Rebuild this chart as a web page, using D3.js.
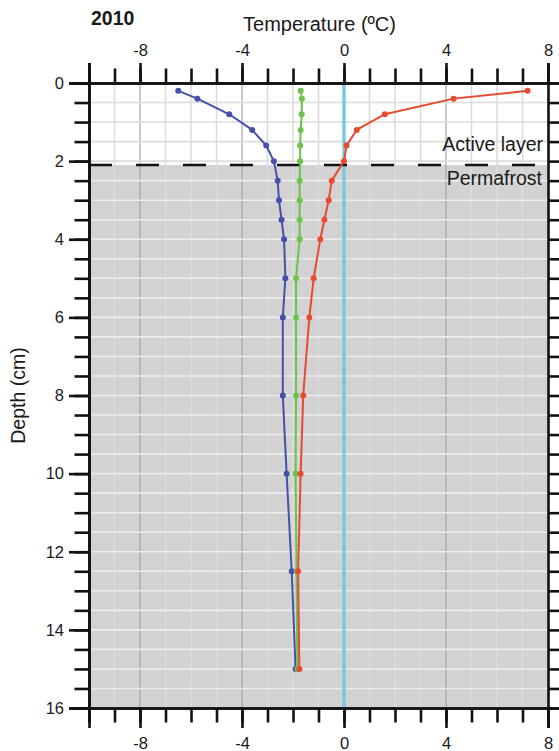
<!DOCTYPE html>
<html>
<head>
<meta charset="utf-8">
<script src="https://cdn.jsdelivr.net/npm/d3@7/dist/d3.min.js"></script>
<style>
  html, body { margin: 0; padding: 0; background: #fff; }
  svg { display: block; font-family: "Liberation Sans", Arial, Helvetica, sans-serif; }
</style>
</head>
<body>
<svg id="chart" width="559" height="751"></svg>
<script>
// Soil temperature profiles, 2010: depth (cm) vs temperature (ºC)
const depths   = [0.2, 0.4, 0.8, 1.2, 1.6, 2.0, 2.5, 3.0, 3.5, 4.0, 5.0, 6.0, 8.0, 10.0, 12.5, 15.0];
const tempMin  = [-6.5, -5.75, -4.5, -3.6, -3.05, -2.75, -2.6, -2.55, -2.45, -2.35, -2.3, -2.4, -2.4, -2.25, -2.05, -1.9];
const tempMean = [-1.7, -1.65, -1.66, -1.7, -1.72, -1.72, -1.74, -1.74, -1.74, -1.74, -1.88, -1.88, -1.88, -1.9, -1.86, -1.83];
const tempMax  = [7.2, 4.3, 1.6, 0.5, 0.1, 0.0, -0.48, -0.6, -0.77, -0.93, -1.19, -1.36, -1.6, -1.7, -1.8, -1.75];

const tempLabels  = [-8, -4, 0, 4, 8];
const depthLabels = [0, 2, 4, 6, 8, 10, 12, 14, 16];
const permafrostTop = 2.1;

const seriesColors = ["#4550ad", "#6cc24a", "#e84a2f"];
const series = [tempMin, tempMean, tempMax];

const svg = d3.select("#chart");
const plotLeft = 89, plotRight = 548, plotTop = 83, plotBottom = 708;

const x = d3.scaleLinear().domain([-10, 8]).range([plotLeft, plotRight]);
const y = d3.scaleLinear().domain([0, 16]).range([plotTop, plotBottom]);

const xMinor = d3.range(-10, 8.001, 1);
const yMinor = d3.range(0, 16.001, 0.5);
const xMajor = [-8, -4, 4];

// backgrounds: active layer (white) and permafrost (grey)
svg.append("rect").attr("x", plotLeft).attr("y", plotTop)
  .attr("width", plotRight - plotLeft).attr("height", y(permafrostTop) - plotTop)
  .attr("fill", "#ffffff");
svg.append("rect").attr("x", plotLeft).attr("y", y(permafrostTop))
  .attr("width", plotRight - plotLeft).attr("height", plotBottom - y(permafrostTop))
  .attr("fill", "#d3d2d2");

// grid in the active layer
const gActive = svg.append("g");
gActive.selectAll("line.v").data(xMinor).join("line")
  .attr("x1", d => x(d)).attr("x2", d => x(d))
  .attr("y1", plotTop).attr("y2", y(permafrostTop))
  .attr("stroke", d => xMajor.includes(d) ? "#b9bdc6" : "#dcdcdc")
  .attr("stroke-width", 1.6);
gActive.selectAll("line.h").data(yMinor.filter(d => d < permafrostTop)).join("line")
  .attr("x1", plotLeft).attr("x2", plotRight)
  .attr("y1", d => y(d)).attr("y2", d => y(d))
  .attr("stroke", "#dcdcdc").attr("stroke-width", 1.6);

// grid in the permafrost
const gPerm = svg.append("g");
gPerm.selectAll("line.v").data(xMinor).join("line")
  .attr("x1", d => x(d)).attr("x2", d => x(d))
  .attr("y1", y(permafrostTop)).attr("y2", plotBottom)
  .attr("stroke", d => xMajor.includes(d) ? "#a9adb6" : "#dcdcdc")
  .attr("stroke-width", 1.5);
gPerm.selectAll("line.h").data(yMinor.filter(d => d > permafrostTop)).join("line")
  .attr("x1", plotLeft).attr("x2", plotRight)
  .attr("y1", d => y(d)).attr("y2", d => y(d))
  .attr("stroke", "#ececec").attr("stroke-width", 1.6);

// 0 ºC reference line
svg.append("line")
  .attr("x1", x(0)).attr("x2", x(0)).attr("y1", plotTop).attr("y2", plotBottom)
  .attr("stroke", "#7cc8dc").attr("stroke-width", 3.5);

// active layer / permafrost boundary
svg.append("line")
  .attr("x1", plotLeft).attr("x2", plotRight)
  .attr("y1", y(permafrostTop)).attr("y2", y(permafrostTop))
  .attr("stroke", "#111").attr("stroke-width", 2.6)
  .attr("stroke-dasharray", "23,24");

svg.append("text").attr("x", 543).attr("y", 151)
  .attr("text-anchor", "end").attr("font-size", 19.5).attr("fill", "#1a1a1a")
  .text("Active layer");
svg.append("text").attr("x", 542).attr("y", 185)
  .attr("text-anchor", "end").attr("font-size", 19.5).attr("fill", "#1a1a1a")
  .text("Permafrost");

// temperature profiles
const line = d3.line().x(d => x(d[0])).y(d => y(d[1]));
series.forEach((vals, i) => {
  const pts = vals.map((v, j) => [v, depths[j]]);
  svg.append("path").datum(pts)
    .attr("d", line).attr("fill", "none")
    .attr("stroke", seriesColors[i]).attr("stroke-width", 2);
  svg.append("g").selectAll("circle").data(pts).join("circle")
    .attr("cx", d => x(d[0])).attr("cy", d => y(d[1])).attr("r", 3)
    .attr("fill", seriesColors[i]);
});

// axes: minor ticks without labels, major ticks with labels
const majorLen = 20, minorLen = 14.5;
function styleAxis(g) {
  g.selectAll(".domain").attr("stroke", "#111").attr("stroke-width", 2.6);
  g.selectAll(".tick line").attr("stroke", "#111").attr("stroke-width", 2.6);
  g.selectAll("text").attr("fill", "#1a1a1a").attr("font-size", 16.5)
    .attr("font-family", "'Liberation Sans', Arial, sans-serif");
}

const axTopMinor = svg.append("g").attr("transform", `translate(0,${plotTop})`)
  .call(d3.axisTop(x).tickValues(xMinor).tickSize(minorLen).tickFormat(""));
const axTop = svg.append("g").attr("transform", `translate(0,${plotTop})`)
  .call(d3.axisTop(x).tickValues(tempLabels.concat([-10])).tickSize(majorLen).tickPadding(7)
    .tickFormat(d => d === -10 ? "" : d));
const axBotMinor = svg.append("g").attr("transform", `translate(0,${plotBottom})`)
  .call(d3.axisBottom(x).tickValues(xMinor).tickSize(minorLen).tickFormat(""));
const axBot = svg.append("g").attr("transform", `translate(0,${plotBottom})`)
  .call(d3.axisBottom(x).tickValues(tempLabels).tickSize(majorLen).tickPadding(9)
    .tickFormat(d => d));
const axLeftMinor = svg.append("g").attr("transform", `translate(${plotLeft},0)`)
  .call(d3.axisLeft(y).tickValues(yMinor).tickSize(minorLen).tickFormat(""));
const axLeft = svg.append("g").attr("transform", `translate(${plotLeft},0)`)
  .call(d3.axisLeft(y).tickValues(depthLabels).tickSize(majorLen).tickPadding(5)
    .tickFormat(d => d));
const axRight = svg.append("g").attr("transform", `translate(${plotRight},0)`)
  .call(d3.axisRight(y).tickValues(yMinor).tickSize(12).tickFormat(""));

[axTopMinor, axTop, axBotMinor, axBot, axLeftMinor, axLeft, axRight].forEach(styleAxis);

// titles
svg.append("text").attr("x", 91).attr("y", 25)
  .attr("font-size", 19.5).attr("font-weight", "bold").attr("fill", "#1a1a1a")
  .text("2010");
svg.append("text").attr("x", (plotLeft + plotRight) / 2 + 1).attr("y", 31)
  .attr("text-anchor", "middle").attr("font-size", 20).attr("fill", "#1a1a1a")
  .text("Temperature (ºC)");
svg.append("text")
  .attr("transform", `translate(25,${(plotTop + plotBottom) / 2}) rotate(-90)`)
  .attr("text-anchor", "middle").attr("font-size", 19.5).attr("fill", "#1a1a1a")
  .text("Depth (cm)");
</script>
</body>
</html>
